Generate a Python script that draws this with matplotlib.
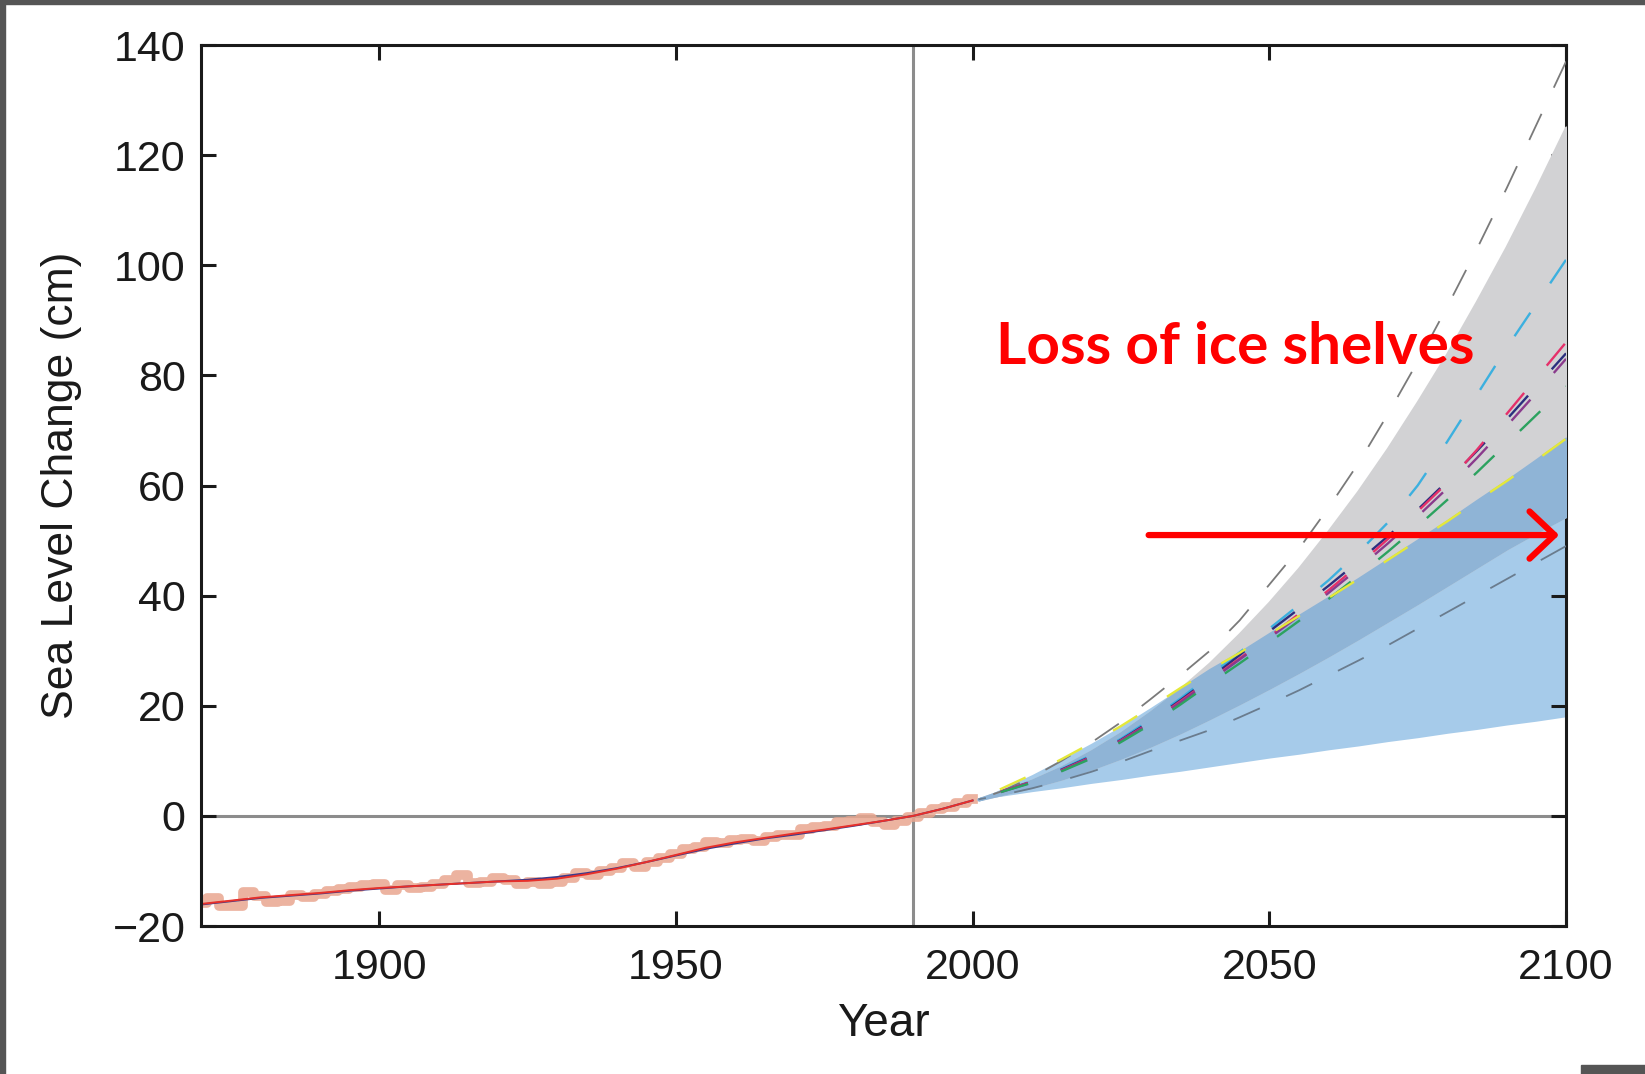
import numpy as np
import matplotlib
matplotlib.use("Agg")
import matplotlib.pyplot as plt
from matplotlib.patches import Rectangle

plt.rcParams['font.family'] = ['Liberation Sans', 'DejaVu Sans']

# observed sea level (2-year steps), cm relative to 1990
obs_years = list(range(1870, 2001, 2))
obs_level = [-15.9, -15.0, -16.3, -16.4, -13.8, -14.6, -15.6, -15.5, -14.4, -14.7,
             -14.2, -13.7, -13.2, -13.0, -12.6, -12.4, -13.4, -12.6, -13.1, -12.9,
             -12.4, -11.6, -10.8, -12.2, -12.0, -11.3, -11.6, -12.3, -12.0, -12.4,
             -12.0, -11.3, -10.4, -10.8, -10.1, -9.4, -8.6, -9.2, -8.3, -7.7,
             -7.0, -6.0, -5.6, -4.7, -5.0, -4.3, -4.2, -4.6, -3.8, -3.5,
             -3.4, -2.4, -2.0, -1.8, -1.2, -1.0, -0.3, -1.2, -1.7, -1.0,
             -0.2, 0.6, 1.2, 1.6, 2.3, 3.0]

# smoothed reconstructions
smooth_years = list(range(1870, 2001, 5))
smooth_red = [-16.0, -15.4, -14.8, -14.4, -14.0, -13.5, -13.1, -12.8, -12.5, -12.2,
              -11.9, -11.8, -11.4, -10.6, -9.6, -8.4, -7.1, -5.8, -4.8, -4.0,
              -3.2, -2.5, -1.7, -0.9, 0.0, 1.3, 2.8]
smooth_blue = [-16.1, -15.5, -14.9, -14.5, -14.1, -13.6, -13.2, -12.8, -12.5, -12.2,
               -11.9, -11.6, -11.1, -10.4, -9.5, -8.4, -7.2, -6.0, -5.0, -4.1,
               -3.4, -2.6, -1.8, -0.9, 0.0, 1.3, 2.8]

# projections, 2001 then every 5 years to 2100
proj_years = [2001] + list(range(2005, 2101, 5))
blue_lo = [3.0, 3.6, 4.4, 5.1, 5.9, 6.6, 7.4, 8.1, 8.9, 9.7, 10.5,
           11.2, 12.0, 12.7, 13.5, 14.2, 15.0, 15.7, 16.5, 17.2, 18.0]
blue_hi = [3.0, 5.0, 7.5, 10.3, 13.2, 16.3, 19.7, 23.2, 26.5, 29.6, 33.0,
           36.3, 39.6, 43.0, 46.5, 50.0, 53.5, 57.2, 60.8, 64.6, 68.5]
gray_lo = [3.0, 4.0, 5.3, 6.8, 8.6, 10.6, 12.8, 15.2, 17.8, 20.5, 23.3,
           26.2, 29.2, 32.3, 35.5, 38.7, 42.0, 45.3, 48.6, 51.6, 54.5]
gray_hi = [3.0, 4.5, 6.4, 8.8, 11.7, 15.0, 18.8, 23.0, 27.7, 33.0, 38.7,
           44.9, 51.7, 58.9, 66.7, 75.1, 83.9, 93.4, 103.3, 113.9, 125.0]
dash_hi = [3.0, 4.5, 7.0, 10.0, 13.3, 17.0, 21.2, 25.5, 30.0, 35.5, 42.0,
           48.5, 56.0, 64.0, 73.0, 82.5, 92.5, 103.0, 114.0, 125.5, 137.0]
dash_lo = [3.0, 3.8, 5.0, 6.4, 8.0, 9.8, 11.8, 13.7, 15.6, 17.9, 20.3,
           22.8, 25.5, 28.2, 31.0, 34.0, 37.0, 40.0, 43.0, 46.0, 49.0]
model_names = ['cyan', 'navy', 'red', 'purple', 'green', 'yellow']
model_runs = [
    [3.0, 4.5, 6.3, 8.5, 11.0, 14.0, 17.5, 21.3, 25.5, 29.7, 34.0,
     38.3, 42.8, 47.8, 53.3, 60.0, 68.0, 76.5, 85.0, 93.0, 101.0],
    [3.0, 4.5, 6.2, 8.4, 10.8, 13.8, 17.2, 21.0, 25.0, 29.2, 33.5,
     37.6, 41.8, 46.2, 50.8, 55.6, 60.8, 66.3, 72.0, 78.0, 84.0],
    [3.0, 4.5, 6.2, 8.3, 10.7, 13.7, 17.0, 20.8, 24.7, 28.6, 32.5,
     36.7, 41.0, 45.5, 50.3, 55.3, 60.5, 66.5, 73.0, 79.5, 86.0],
    [3.0, 4.4, 6.1, 8.2, 10.6, 13.6, 16.9, 20.6, 24.5, 28.4, 32.3,
     36.3, 40.5, 44.9, 49.5, 54.4, 59.5, 65.0, 70.8, 76.8, 83.0],
    [3.0, 4.4, 6.0, 8.1, 10.4, 13.4, 16.6, 20.2, 24.0, 27.7, 31.5,
     35.4, 39.4, 43.6, 48.0, 52.6, 57.4, 62.4, 67.6, 72.8, 78.0],
    [3.0, 5.0, 7.5, 10.3, 13.2, 16.3, 19.7, 23.2, 26.5, 29.6, 33.0,
     36.3, 39.6, 43.0, 46.5, 50.0, 53.5, 57.2, 60.8, 64.6, 68.5],
]
model_colors = ['#3cb0df', '#2b2f7e', '#e5306a', '#8a3a8c', '#2ca25f', '#e4e83a']

fig = plt.figure(figsize=(16.45, 10.74), dpi=100)
ax = fig.add_axes([0.1222, 0.1378, 0.8298, 0.8203])

ax.axhline(0, color='#8c8c8c', lw=2.2, zorder=1)
ax.axvline(1990, color='#8c8c8c', lw=2.2, zorder=1)

# bands: light blue, gray, and their overlap
ax.fill_between(proj_years, blue_lo, blue_hi, color='#a6cbea', lw=0, zorder=1.5)
ax.fill_between(proj_years, gray_lo, gray_hi, facecolor='#d2d2d4', edgecolor='#d2d2d4',
                lw=2.4, zorder=3)
ax.fill_between(proj_years, gray_lo, np.minimum(blue_hi, gray_hi), facecolor='#8fb4d6',
                edgecolor='#8fb4d6', lw=2.4, zorder=3.1)

# gray envelopes drawn from 2100 backwards so a dash sits at the right edge
ax.plot(proj_years[::-1], dash_hi[::-1], color='#7a7a7a', lw=1.3, ls=(0, (16, 16)), zorder=4)
ax.plot(proj_years[::-1], dash_lo[::-1], color='#6a7c8e', lw=1.3, ls=(0, (16, 16)), zorder=4)
for run, col in zip(model_runs, model_colors):
    ax.plot(proj_years, run, color=col, lw=1.7, ls=(17, (12, 15)), zorder=4.2)

ax.plot(obs_years, obs_level, color='#e9a68f', lw=7, alpha=0.85,
        drawstyle='steps-mid', zorder=2)
ax.plot(smooth_years, smooth_blue, color='#3a3a8c', lw=1.4, zorder=2.2)
ax.plot(smooth_years, smooth_red, color='#e8302a', lw=1.4, zorder=2.3)

ax.set_xlim(1870, 2100)
ax.set_ylim(-20, 140)
ax.set_xticks([1900, 1950, 2000, 2050, 2100])
ax.set_yticks(range(-20, 141, 20))
ax.tick_params(direction='in', length=11, width=2.2, labelsize=31, top=True, right=True,
               color='#1a1a1a', labelcolor='#1a1a1a')
ax.tick_params(axis='x', pad=16)
ax.tick_params(axis='y', pad=11)
for sp in ax.spines.values():
    sp.set_linewidth(2.2)
    sp.set_color('#1a1a1a')

ax.set_xlabel('Year', fontsize=33, labelpad=10, color='#1a1a1a')
ax.set_ylabel('Sea Level Change (cm)', fontsize=32, labelpad=22, color='#1a1a1a')

ax.text(2044.2, 85.0, 'Loss of ice shelves', color='red', fontsize=42,
        fontweight='bold', family=['Lato', 'DejaVu Sans'], ha='center', va='center',
        zorder=6)
ax.annotate('', xy=(2099.3, 51), xytext=(2029.2, 51),
            arrowprops=dict(arrowstyle='->, head_length=0.9, head_width=0.85',
                            color='#ff0000', lw=4.5, mutation_scale=20),
            zorder=6)

# screenshot frame remnants
fig.patches.append(Rectangle((0, 1 - 4 / 1074), 1, 4 / 1074, transform=fig.transFigure,
                             color='#555555', zorder=10))
fig.patches.append(Rectangle((0, 0), 5 / 1645, 1, transform=fig.transFigure,
                             color='#555555', zorder=10))
fig.patches.append(Rectangle((1581 / 1645, 0), 64 / 1645, 9 / 1074,
                             transform=fig.transFigure, color='#555555', zorder=10))

fig.savefig('out.png', dpi=100)
